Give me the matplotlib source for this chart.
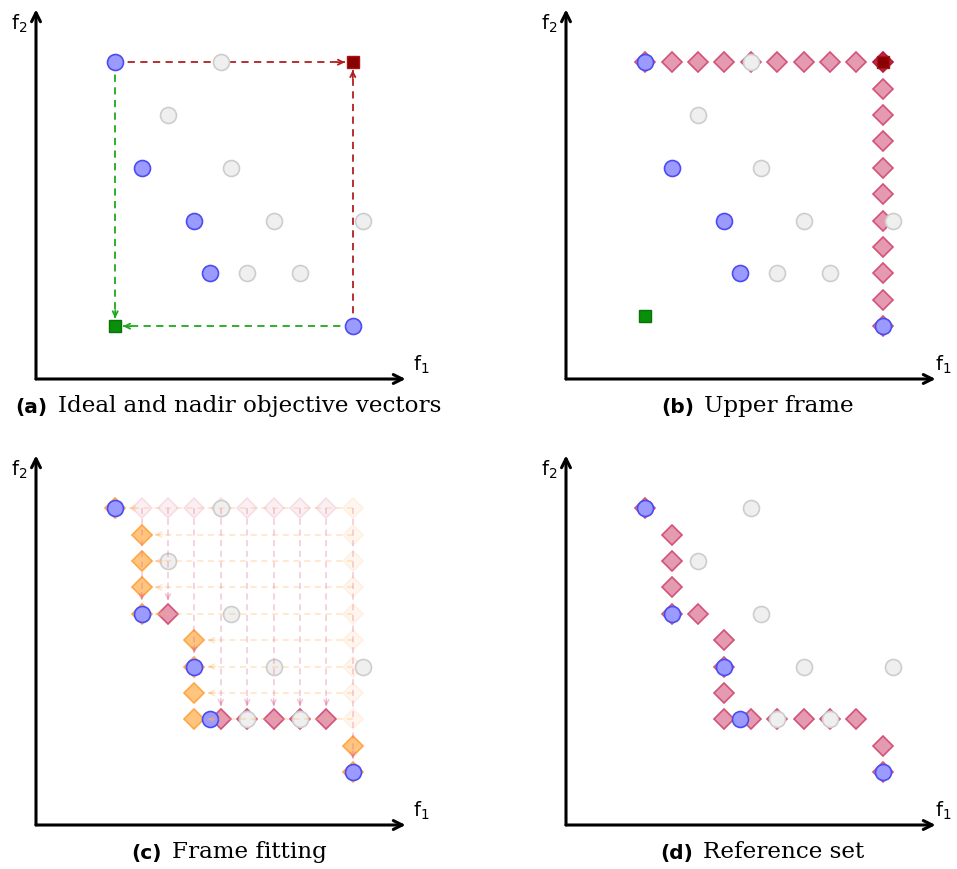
import numpy as np
import matplotlib
matplotlib.use("Agg")
import matplotlib.pyplot as plt

# approximation set: nondominated (blue) and dominated (grey) points
front_x = [3, 4, 6, 6.6, 12]
front_y = [12, 8, 6, 4, 2]
dominated_x = [7, 5, 7.4, 9, 12.4, 8, 10]
dominated_y = [12, 10, 8, 6, 6, 4, 4]

# ideal and nadir objective vectors
ideal = [3, 2]
nadir = [12, 12]
ideal_upper = [3, 2.4]

# upper frame: top row and right column of the grid
frame_top_x = [3, 4, 5, 6, 7, 8, 9, 10, 11, 12]
frame_right_y = [2, 3, 4, 5, 6, 7, 8, 9, 10, 11]

# frame fitting: points pushed left (orange) and pushed down (pink)
left_x = [3, 4, 4, 4, 4, 6, 6, 6, 6, 12, 12]
left_y = [12, 11, 10, 9, 8, 7, 6, 5, 4, 3, 2]
down_x = [5, 7, 8, 9, 10, 11]
down_y = [8, 4, 4, 4, 4, 4]
drop_x = [4, 5, 6, 7, 8, 9, 10, 11, 12]
drop_to = [8, 8, 6, 4, 4, 4, 4, 4, 2]

captions = ["Ideal and nadir objective vectors", "Upper frame",
            "Frame fitting", "Reference set"]
tags = ["(a)", "(b)", "(c)", "(d)"]

W, H = 957, 869
UNIT = 26.4  # pixels per grid step

BLUE = dict(marker="o", ms=11.5, mfc="#9b9bff", mec="#4b4bf5", mew=1.2, ls="none")
GREY = dict(marker="o", ms=11.5, mfc="#efefef", mec="#cdcdcd", mew=1.2, ls="none")
PINK = dict(marker="D", ms=10.6, mfc="#e49ab0", mec="#d3527a", mew=1.2, ls="none")
ORANGE = dict(marker="D", ms=10.6, mfc="#ffc57f", mec="#ffa646", mew=1.2, ls="none")


def make_axes(fig, ox, oy):
    # ox, oy: pixel position of the origin, measured from the top left
    x0, x1, y0, y1 = -1.4, 15.8, -2.0, 14.6
    left = (ox + x0 * UNIT) / W
    bottom = (H - oy + y0 * UNIT) / H
    ax = fig.add_axes([left, bottom, (x1 - x0) * UNIT / W, (y1 - y0) * UNIT / H])
    ax.set_xlim(x0, x1)
    ax.set_ylim(y0, y1)
    ax.axis("off")
    return ax


def draw_frame(ax, tag, caption, f1_x):
    for end in [(14, 0), (0, 14)]:
        ax.annotate("", xy=end, xytext=(0, 0),
                    arrowprops=dict(arrowstyle="->", lw=2.2, color="k",
                                    mutation_scale=16, shrinkA=0, shrinkB=0))
    ax.text(-0.65, 13.45, r"$\mathregular{f_2}$", fontsize=14, ha="center", va="center")
    ax.text(f1_x, 0.55, r"$\mathregular{f_1}$", fontsize=14, ha="center", va="center")
    t = ax.text(caption[0], -1.3, tag, fontsize=14.5, weight="bold",
                family="DejaVu Sans", va="baseline")
    ax.annotate(caption[1], xy=(1, 0), xycoords=t, xytext=(7, 0),
                textcoords="offset points", fontsize=16.6, family="DejaVu Serif",
                va="bottom")


def dashed_arrow(ax, start, end, color, alpha=1.0, lw=1.1, z=1):
    ax.plot([start[0], end[0]], [start[1], end[1]], color=color, lw=lw,
            dashes=(4, 3), alpha=alpha, zorder=z)
    d = np.array(end, float) - np.array(start, float)
    d = d / np.linalg.norm(d)
    tail = np.array(end) - 0.3 * d
    ax.annotate("", xy=end, xytext=tail,
                arrowprops=dict(arrowstyle="->", color=color, lw=lw, alpha=alpha,
                                mutation_scale=9, shrinkA=0, shrinkB=0), zorder=z)


def points(ax, z=5):
    ax.plot(dominated_x, dominated_y, zorder=z, **GREY)
    ax.plot(front_x, front_y, zorder=z, **BLUE)


def panel_a(ax):
    red, green = "#b02020", "#1fa81f"
    dashed_arrow(ax, (front_x[0], front_y[0]), (nadir[0] - 0.3, nadir[1]), red, lw=1.3)
    dashed_arrow(ax, (front_x[-1], front_y[-1]), (nadir[0], nadir[1] - 0.3), red, lw=1.3)
    dashed_arrow(ax, (front_x[0], front_y[0]), (ideal[0], ideal[1] + 0.3), green, lw=1.3)
    dashed_arrow(ax, (front_x[-1], front_y[-1]), (ideal[0] + 0.3, ideal[1]), green, lw=1.3)
    points(ax)
    ax.plot(*nadir, marker="s", ms=8.5, mfc="#8b0000", mec="#a51515", zorder=6)
    ax.plot(*ideal, marker="s", ms=8.5, mfc="#0a8f0a", mec="#067406", zorder=6)


def panel_b(ax):
    ax.plot(frame_top_x[:-1], [nadir[1]] * (len(frame_top_x) - 1), zorder=2, **PINK)
    ax.plot([nadir[0]] * len(frame_right_y), frame_right_y, zorder=2, **PINK)
    dark = dict(PINK, mfc="#c8284f", mec="#b31940")
    ax.plot(*nadir, zorder=2, **dark)
    points(ax)
    ax.plot(*nadir, marker="s", ms=8.5, mfc="#8b0000", mec="#a51515", zorder=6)
    ax.plot(*ideal_upper, marker="s", ms=8.5, mfc="#0a8f0a", mec="#067406", zorder=6)


def panel_c(ax):
    # frame points that have been moved away are left faint
    ax.plot(frame_top_x[1:-1], [nadir[1]] * (len(frame_top_x) - 2), zorder=1,
            **dict(PINK, alpha=0.15))
    ax.plot([nadir[0]] * 9, range(4, 13), zorder=1, **dict(ORANGE, alpha=0.12))
    ax.plot(left_x, left_y, zorder=2, **ORANGE)
    ax.plot(down_x, down_y, zorder=2, **PINK)
    points(ax)
    for x, y in zip(left_x, left_y):
        if x < nadir[0]:
            dashed_arrow(ax, (nadir[0], y), (x + 0.5, y), "#ffb060", alpha=0.35, z=7)
    for x, y in zip(drop_x, drop_to):
        dashed_arrow(ax, (x, nadir[1]), (x, y + 0.5), "#e0608a", alpha=0.35, z=7)


def panel_d(ax):
    ax.plot(left_x + down_x, left_y + down_y, zorder=2, **PINK)
    points(ax)


def main():
    fig = plt.figure(figsize=(W / 100, H / 100), dpi=100)
    origins = [(36, 379), (566, 379), (36, 825), (566, 825)]
    starts = [-0.77, 3.6, 3.62, 3.56]
    f1_pos = [14.6, 14.3, 14.6, 14.3]
    painters = [panel_a, panel_b, panel_c, panel_d]
    for i, paint in enumerate(painters):
        ox, oy = origins[i]
        ax = make_axes(fig, ox, oy)
        draw_frame(ax, tags[i], (starts[i], captions[i]), f1_pos[i])
        paint(ax)
    fig.savefig("out.png", dpi=100)


if __name__ == "__main__":
    main()
